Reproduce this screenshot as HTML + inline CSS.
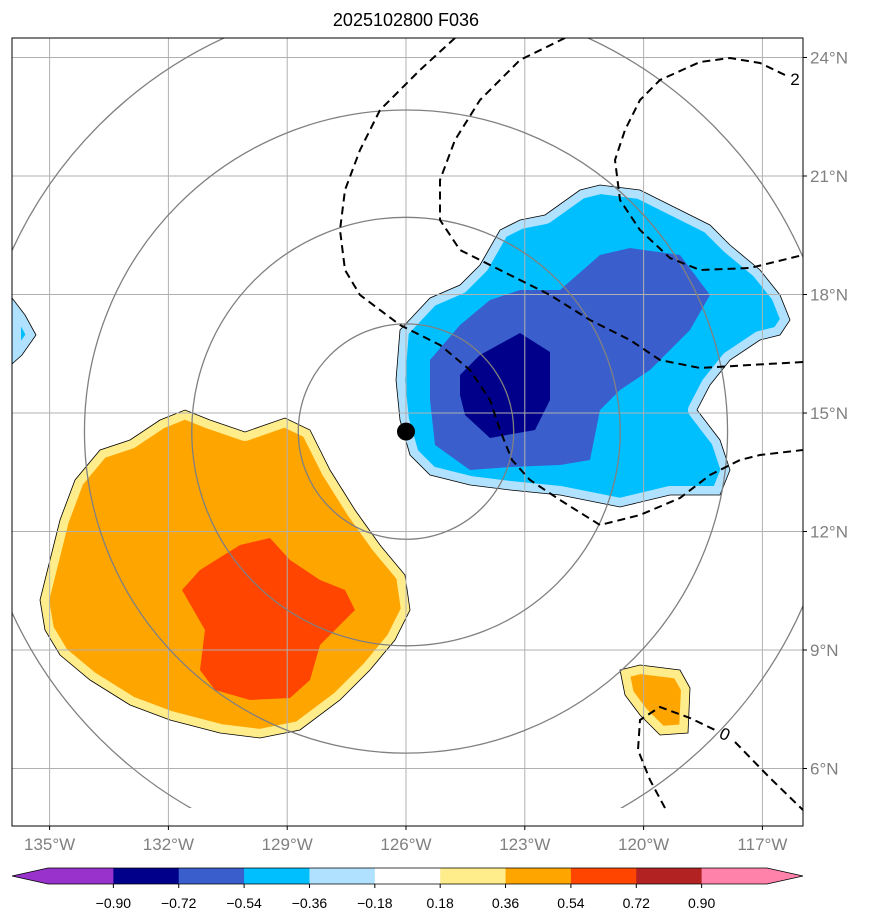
<!DOCTYPE html>
<html><head><meta charset="utf-8"><style>
body{margin:0;background:#fff;font-family:"Liberation Sans","DejaVu Sans",sans-serif}
svg{display:block}
</style></head><body>
<svg id="chart" width="873" height="924" xmlns="http://www.w3.org/2000/svg"></svg>
<script>
const lonTicks=[-135,-132,-129,-126,-123,-120,-117];
const latTicks=[24,21,18,15,12,9,6];
const cbLevels=[-0.90,-0.72,-0.54,-0.36,-0.18,0.18,0.36,0.54,0.72,0.90];
const cbColors=["#9932cc","#00008b","#3a5fcd","#00bfff","#b0e2ff","#ffffff","#ffec8b","#ffa500","#ff4500","#b22222","#ff82ab"];
const center=[-126,14.53];
const ringCenter=[-126,14.53];
const ringRadii=[2.72,5.41,8.12,10.95];
const P=(a)=>a.map(p=>[-126+(p[0]-406)/39.6,15-(p[1]-413)/39.5]);
const orangeBlob=P([[45,630],[40,600],[50,560],[60,520],[75,480],[100,450],[130,440],[160,420],[185,410],[210,420],[245,432],[285,418],[310,430],[330,470],[355,510],[380,545],[405,575],[410,610],[395,640],[370,670],[340,700],[300,730],[260,738],[220,733],[170,720],[130,705],[90,680],[60,655]]);
const redBlob=P([[182,590],[200,570],[240,545],[270,538],[290,560],[320,580],[345,590],[355,610],[335,630],[320,645],[310,680],[290,698],[250,700],[215,690],[200,670],[205,630]]);
const blueBlob=P([[400,330],[430,298],[460,285],[480,265],[500,230],[520,220],[545,215],[580,190],[600,185],[640,190],[680,210],[710,225],[730,245],[760,270],[780,295],[790,320],[780,335],[760,340],[730,360],[710,385],[697,410],[720,440],[730,470],[720,495],[670,495],[620,507],[560,495],[510,490],[470,485],[430,475],[410,455],[400,420],[396,380]]);
const royalBlob=P([[430,360],[460,325],[490,300],[520,290],[560,290],[600,255],[630,248],[680,255],[710,295],[690,330],[650,370],[620,390],[600,410],[590,460],[560,465],[510,467],[470,470],[435,445],[430,400]]);
const navyBlob=P([[460,375],[480,355],[520,333],[550,352],[550,400],[535,430],[490,438],[465,415],[460,395]]);
const smallBlob=P([[620,670],[640,665],[680,670],[690,688],[688,733],[660,735],[640,715],[625,695]]);
const leftBlob=P([[12,298],[25,315],[36,335],[22,355],[12,364]]);
const dash1=P([[455,38],[420,70],[380,110],[360,150],[345,190],[340,230],[345,270],[360,295],[400,325],[440,345],[470,370],[490,400],[500,430],[512,460],[530,480],[560,500],[600,525],[640,515],[680,498],[710,475],[740,460],[760,455],[803,450]]);
const dash2=P([[565,38],[520,60],[480,100],[455,140],[440,180],[440,220],[460,250],[500,270],[550,295],[590,320],[630,340],[660,360],[700,368],[750,365],[803,362]]);
const dash3=P([[785,75],[760,63],[730,58],[700,62],[660,80],[640,100],[625,130],[615,160],[620,200],[640,230],[670,258],[700,270],[750,268],[803,255]]);
const dash4=P([[665,808],[650,780],[638,750],[640,720],[660,707],[690,718],[715,730]]);
const dash4b=P([[735,742],[770,778],[803,810]]);

const L=12,R=803,T=38,B=826;
const xs=lon=>406+(lon+126)*39.6;
const ys=lat=>413-(lat-15)*39.5;
const svg=document.getElementById('chart');
const NS="http://www.w3.org/2000/svg";
function mk(tag,attrs,parent){const e=document.createElementNS(NS,tag);for(const k in attrs)e.setAttribute(k,attrs[k]);(parent||svg).appendChild(e);return e;}
const pts=a=>a.map(p=>xs(p[0]).toFixed(1)+','+ys(p[1]).toFixed(1)).join(' ');

const defs=mk('defs',{});
const cp=mk('clipPath',{id:'clip'},defs);mk('rect',{x:L,y:T,width:R-L,height:B-T},cp);
const cp2=mk('clipPath',{id:'clipRing'},defs);mk('rect',{x:L,y:T,width:R-L,height:808-T},cp2);
const g=mk('g',{'clip-path':'url(#clip)'});



let cid=0;
function blob(a,fill,edge,name){
  let clip='';
  if(edge!=='none'){cid++;const c=mk('clipPath',{id:'b'+cid},defs);mk('polygon',{points:pts(a)},c);clip='url(#b'+cid+')';}
  const attrs={points:pts(a),fill:fill,stroke:edge==='none'?'none':edge,'stroke-width':edge==='none'?0:18,'stroke-linejoin':'round'};
  if(clip)attrs['clip-path']=clip;
  const e=mk('polygon',attrs,g);
  
  
  if(edge!=='none'){const o=mk('polygon',{points:pts(a),fill:'none',stroke:'#000','stroke-width':0.8},g);
  
  }
}
blob(orangeBlob,'#ffa500','#ffec8b','positive-anomaly-region');
blob(redBlob,'#ff4500','none','strong-positive-region');
blob(blueBlob,'#00bfff','#b0e2ff','negative-anomaly-region');
blob(royalBlob,'#3a5fcd','none','strong-negative-region');
blob(navyBlob,'#00008b','none','very-strong-negative-region');
blob(smallBlob,'#ffa500','#ffec8b','small-positive-region');
blob(leftBlob,'#00bfff','#b0e2ff','left-negative-region');

lonTicks.forEach(l=>{const e=mk('line',{x1:xs(l),x2:xs(l),y1:T,y2:B,stroke:'#b0b0b0','stroke-width':1},g);

});
latTicks.forEach(l=>{const e=mk('line',{x1:L,x2:R,y1:ys(l),y2:ys(l),stroke:'#b0b0b0','stroke-width':1},g);

});

const rg=mk('g',{'clip-path':'url(#clipRing)'},g);
ringRadii.forEach(r=>{const e=mk('circle',{cx:xs(ringCenter[0]),cy:ys(ringCenter[1]),r:r*39.6,fill:'none',stroke:'#808080','stroke-width':1.3},rg);

});

[dash1,dash2,dash3,dash4,dash4b].forEach(a=>{const e=mk('polyline',{points:pts(a),fill:'none',stroke:'#000','stroke-width':2,'stroke-dasharray':'8,5'},g);

});
let t=mk('text',{x:795,y:85,'font-size':17,'text-anchor':'middle',fill:'#000'},g);t.textContent='2';

t=mk('text',{x:725,y:740,'font-size':17,'text-anchor':'middle',fill:'#000',transform:'rotate(25 725 734)'},g);t.textContent='0';


const dot=mk('circle',{cx:xs(center[0]),cy:ys(center[1]),r:9,fill:'#000'},g);



const fr=mk('rect',{x:L,y:T,width:R-L,height:B-T,fill:'none',stroke:'#000','stroke-width':1});


lonTicks.forEach(l=>{const e=mk('text',{x:xs(l),y:850,'font-size':17,'text-anchor':'middle',fill:'#808080'});e.textContent=Math.abs(l)+'°W';

mk('line',{x1:xs(l),x2:xs(l),y1:B,y2:B+4,stroke:'#000'});});
latTicks.forEach(l=>{const e=mk('text',{x:810,y:ys(l)+6,'font-size':17,fill:'#808080'});e.textContent=l+'°N';

mk('line',{x1:R,x2:R+4,y1:ys(l),y2:ys(l),stroke:'#000'});});

t=mk('text',{x:406,y:26,'font-size':18,'text-anchor':'middle',fill:'#000'});t.textContent='2025102800 F036';


const cbL=48,cbR=767,cbY=868,cbH=16;
const step=(cbR-cbL)/cbColors.length;
const cbx=v=>cbL+step*(cbLevels.indexOf(v)+1);
const cb=mk('g',{});

cbColors.forEach((c,i)=>{const e=mk('rect',{x:cbL+i*step,y:cbY,width:step+0.5,height:cbH,fill:c},cb);
});
let e=mk('polygon',{points:`12,${cbY+cbH/2} ${cbL},${cbY} ${cbL},${cbY+cbH}`,fill:cbColors[0]},cb);

e=mk('polygon',{points:`803,${cbY+cbH/2} ${cbR},${cbY} ${cbR},${cbY+cbH}`,fill:cbColors[cbColors.length-1]},cb);

mk('polygon',{points:`12,${cbY+cbH/2} ${cbL},${cbY} ${cbR},${cbY} 803,${cbY+cbH/2} ${cbR},${cbY+cbH} ${cbL},${cbY+cbH}`,fill:'none',stroke:'#000','stroke-width':0.8},cb);
cbLevels.forEach(v=>{const x=cbx(v);mk('line',{x1:x,x2:x,y1:cbY+cbH,y2:cbY+cbH+4,stroke:'#000'},cb);
const tt=mk('text',{x:x,y:908,'font-size':14,'text-anchor':'middle',fill:'#000'},cb);tt.textContent=(v<0?'\u2212':'')+Math.abs(v).toFixed(2);
});
</script>
</body></html>
